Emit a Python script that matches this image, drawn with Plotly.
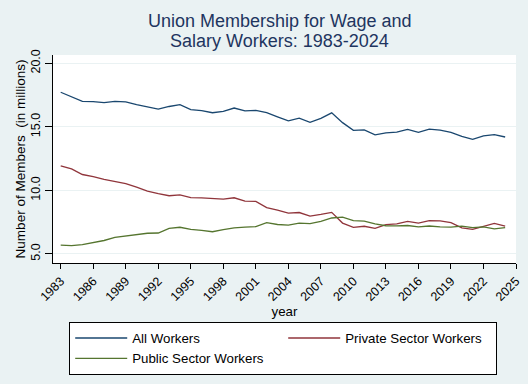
import plotly.graph_objects as go

years = list(range(1983, 2025))
all_workers = [17.72, 17.34, 17.00, 16.98, 16.91, 17.00, 16.96, 16.74, 16.57, 16.39,
               16.60, 16.75, 16.36, 16.27, 16.11, 16.21, 16.48, 16.26, 16.29, 16.11,
               15.78, 15.47, 15.69, 15.36, 15.67, 16.10, 15.33, 14.72, 14.76, 14.37,
               14.53, 14.58, 14.80, 14.56, 14.82, 14.74, 14.57, 14.25, 14.01, 14.29,
               14.38, 14.20]
private_workers = [11.93, 11.69, 11.25, 11.09, 10.86, 10.70, 10.54, 10.26, 9.94, 9.74,
                   9.58, 9.65, 9.43, 9.42, 9.36, 9.31, 9.42, 9.15, 9.14, 8.65,
                   8.45, 8.21, 8.26, 7.98, 8.11, 8.27, 7.43, 7.09, 7.18, 7.01,
                   7.31, 7.37, 7.56, 7.43, 7.62, 7.61, 7.47, 7.06, 6.94, 7.15,
                   7.40, 7.19]
public_workers = [5.70, 5.65, 5.74, 5.89, 6.06, 6.30, 6.42, 6.49, 6.63, 6.65,
                  7.02, 7.10, 6.93, 6.85, 6.75, 6.91, 7.06, 7.11, 7.15, 7.46,
                  7.32, 7.27, 7.43, 7.38, 7.56, 7.83, 7.90, 7.62, 7.58, 7.36,
                  7.22, 7.21, 7.24, 7.13, 7.20, 7.13, 7.11, 7.19, 7.07, 7.13,
                  6.98, 7.07]
x_ticks = list(range(1983, 2026, 3))
y_ticks = [5, 10, 15, 20]
title_lines = ["Union Membership for Wage and", "Salary Workers: 1983-2024"]

series = [
    ("All Workers", all_workers, "#1a476f"),
    ("Private Sector Workers", private_workers, "#90353b"),
    ("Public Sector Workers", public_workers, "#55752f"),
]

fig = go.Figure()
for name, vals, col in series:
    fig.add_trace(go.Scatter(x=years, y=vals, mode="lines", name=name,
                             line=dict(color=col, width=1.3)))

font_family = "Liberation Sans, Arial, sans-serif"
for line, ypos in zip(title_lines, [1.1635, 1.0697]):
    fig.add_annotation(text=line, xref="paper", yref="paper", x=0.490, y=ypos,
                       xanchor="center", yanchor="middle", showarrow=False,
                       font=dict(size=18, color="#1e3560", family=font_family))

fig.update_layout(
    width=528, height=384,
    paper_bgcolor="#eaf2f3", plot_bgcolor="#ffffff",
    margin=dict(l=53, r=12, t=55, b=121, autoexpand=False),
    font=dict(family=font_family, size=12, color="#000000"),
    showlegend=True,
    legend=dict(orientation="h", x=0.035, xanchor="left", y=-0.283, yanchor="top",
                bgcolor="#ffffff", bordercolor="#000000", borderwidth=1,
                entrywidth=146, entrywidthmode="pixels", itemwidth=52,
                font=dict(size=13.3, color="#000000"), tracegroupgap=0),
)
fig.update_xaxes(range=[1982.29, 2025.0], tickvals=x_ticks, tickangle=-45,
                 ticks="outside", ticklen=5, tickcolor="#000000",
                 showline=True, linecolor="#000000", linewidth=1,
                 showgrid=False, zeroline=False, automargin=False,
                 title=dict(text="year", standoff=0, font=dict(size=13.3)),
                 tickfont=dict(size=12.5))
fig.update_yaxes(range=[4.29, 20.65], tickvals=y_ticks, tickformat=".1f", tickangle=-90,
                 ticks="outside", ticklen=7, tickcolor="#000000",
                 showline=True, linecolor="#000000", linewidth=1,
                 showgrid=True, gridcolor="#eaf2f3", gridwidth=1, zeroline=False,
                 automargin=False,
                 title=dict(text="Number of Members  (in millions)", standoff=0,
                            font=dict(size=13.5)),
                 tickfont=dict(size=12.5))

fig.write_html("out.html", config={"displayModeBar": False},
               post_script="document.body.style.margin='0';"
                           "document.body.style.background='#eaf2f3';")
